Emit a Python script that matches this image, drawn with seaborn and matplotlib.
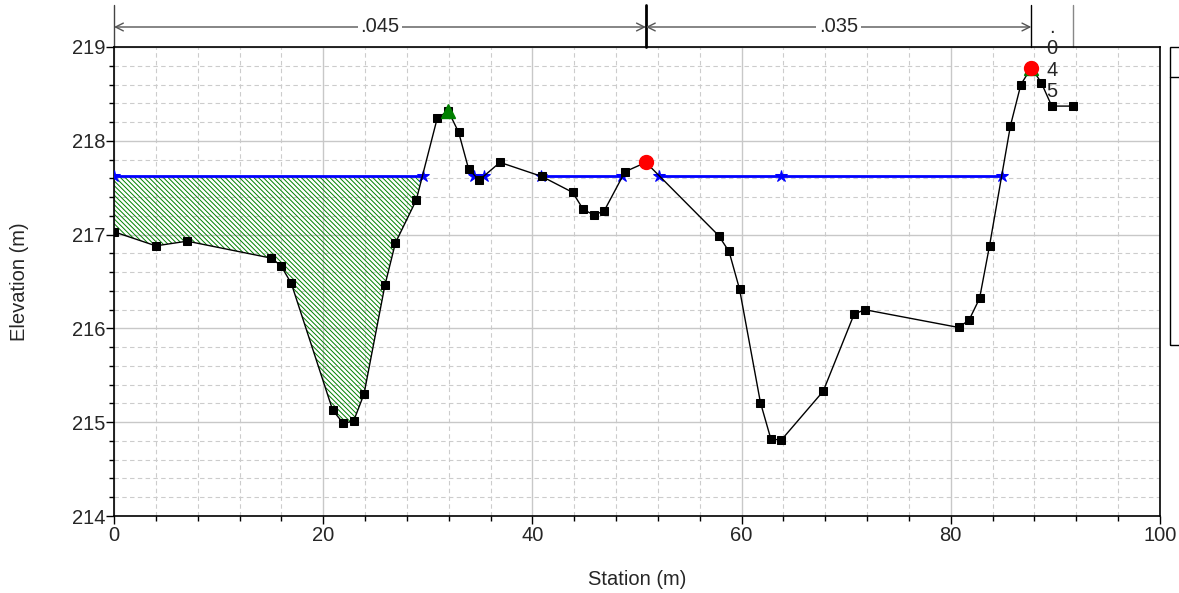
import numpy as np
import pandas as pd
import matplotlib.pyplot as plt
import matplotlib.transforms as mtransforms
from matplotlib.patches import Rectangle
from matplotlib.lines import Line2D
from matplotlib.ticker import MultipleLocator
import seaborn as sns

# ground profile (station, elevation)
station = [0, 4.0, 7.0, 15.0, 15.95, 16.95, 20.9, 21.9, 22.9, 23.9, 25.9, 26.9, 28.9,
           30.9, 31.95, 32.95, 33.9, 34.9, 36.9, 40.9, 43.85, 44.85, 45.85, 46.85,
           48.85, 50.85, 57.8, 58.8, 59.8, 61.8, 62.8, 63.8, 67.8, 70.75, 71.75,
           80.75, 81.75, 82.75, 83.7, 85.7, 86.7, 87.7, 88.65, 89.65, 91.7]
elevation = [217.03, 216.88, 216.93, 216.75, 216.67, 216.48, 215.13, 214.99, 215.01,
             215.30, 216.46, 216.91, 217.37, 218.24, 218.32, 218.09, 217.70, 217.58,
             217.77, 217.62, 217.45, 217.27, 217.21, 217.25, 217.67, 217.77, 216.99,
             216.82, 216.42, 215.21, 214.82, 214.81, 215.33, 216.15, 216.20, 216.01,
             216.09, 216.32, 216.88, 218.16, 218.60, 218.78, 218.62, 218.37, 218.37]

# water surface
ws_elev = 217.625
ws_station = [0, 29.55, 34.45, 35.4, 40.85, 48.6, 52.1, 63.8, 84.9]
ws_segment = [1, 1, 2, 2, 3, 3, 4, 4, 4]

# hatched area (left overbank)
fill_station = [0, 4.0, 7.0, 15.0, 15.95, 16.95, 20.9, 21.9, 22.9, 23.9, 25.9, 26.9,
                28.9, 29.55]
fill_ground = [217.03, 216.88, 216.93, 216.75, 216.67, 216.48, 215.13, 214.99, 215.01,
               215.30, 216.46, 216.91, 217.37, 217.625]

bank_station = [50.85, 87.7]
bank_elev = [217.77, 218.78]
levee_station = [31.95, 87.7]
levee_elev = [218.32, 218.78]

# Manning's n regions
n_breaks = [0, 50.85, 87.7, 91.7]
n_values = [".045", ".035", ".045"]

sns.set_style("white")
plt.rcParams['font.family'] = ['Liberation Sans', 'DejaVu Sans']
plt.rcParams['hatch.linewidth'] = 0.7
FS = 14.5

fig = plt.figure(figsize=(11.79, 5.93), dpi=100)
ax = fig.add_axes([114 / 1179, 77 / 593, 1046 / 1179, 469 / 593])

ax.fill_between(fill_station, fill_ground, ws_elev, facecolor='none',
                edgecolor='green', hatch='\\' * 7, linewidth=0, zorder=2)

ws = pd.DataFrame({"station": ws_station, "elev": ws_elev, "seg": ws_segment})
sns.lineplot(data=ws, x="station", y="elev", units="seg", estimator=None,
             color='blue', lw=2, marker='*', markersize=9, markeredgecolor='blue',
             ax=ax, zorder=3)

ground = pd.DataFrame({"station": station, "elev": elevation})
sns.lineplot(data=ground, x="station", y="elev", sort=False, estimator=None,
             color='black', lw=1, marker='s', markersize=6, markeredgecolor='black',
             ax=ax, zorder=4)

ax.plot(levee_station, levee_elev, ls='none', marker='^', ms=10, color='green', zorder=5)
ax.plot(bank_station, bank_elev, ls='none', marker='o', ms=10, color='red', zorder=6)

ax.set_xlim(0, 100)
ax.set_ylim(214, 219)
ax.xaxis.set_major_locator(MultipleLocator(20))
ax.xaxis.set_minor_locator(MultipleLocator(4))
ax.yaxis.set_major_locator(MultipleLocator(1))
ax.yaxis.set_minor_locator(MultipleLocator(0.2))
ax.grid(which='major', color='#c8c8c8', lw=1, ls='-', zorder=0)
ax.grid(which='minor', color='#cccccc', lw=0.8, ls=(0, (4, 3)), zorder=0)
ax.set_axisbelow(True)
ax.tick_params(which='major', direction='out', length=6, width=1, color='black',
               labelsize=FS, bottom=True, left=True)
ax.tick_params(which='minor', direction='out', length=3.5, width=1, color='black',
               bottom=True, left=True)
ax.tick_params(axis='x', which='major', pad=1)
ax.tick_params(axis='y', which='major', pad=0)
for s in ax.spines.values():
    s.set_color('black')
    s.set_linewidth(1.2)

ax.set_xlabel("Station (m)", fontsize=FS, labelpad=18)
ax.set_ylabel("Elevation (m)", fontsize=FS, labelpad=31)

# n-value brackets above the axes
trans = mtransforms.blended_transform_factory(ax.transData, ax.transAxes)
arrow_y = 1 + 20 / 469
line_colors = ['#444444', 'black', 'black', '#888888']
line_widths = [1, 2, 1, 1]
for xb, c, w in zip(n_breaks, line_colors, line_widths):
    ax.add_line(Line2D([xb, xb], [1.0, 1 + 42 / 469], transform=trans, color=c,
                       lw=w, clip_on=False))
for i in range(2):
    x0, x1 = n_breaks[i], n_breaks[i + 1]
    ax.annotate("", xy=(x1, arrow_y), xytext=(x0, arrow_y), xycoords=trans,
                textcoords=trans,
                arrowprops=dict(arrowstyle='<->', color='#555555', lw=1,
                                shrinkA=0, shrinkB=0, mutation_scale=14))
    ax.text((x0 + x1) / 2, arrow_y, n_values[i], transform=trans, fontsize=FS,
            ha='center', va='center',
            bbox=dict(facecolor='white', edgecolor='none', pad=2))
ax.text((n_breaks[2] + n_breaks[3]) / 2, 1 + 29 / 469, "\n".join(n_values[2]),
        transform=trans, fontsize=FS, ha='center', va='top', linespacing=1.15,
        clip_on=False, zorder=7)

# legend box (cut off at the right edge)
fig.patches.append(Rectangle((1170 / 1179, (593 - 345) / 593), 0.05, 298 / 593,
                             transform=fig.transFigure, fill=False,
                             edgecolor='black', lw=1))
fig.lines.append(Line2D([1170 / 1179, 1.0], [(593 - 77) / 593] * 2,
                        transform=fig.transFigure, color='black', lw=1))

fig.savefig("out.png", dpi=100)
